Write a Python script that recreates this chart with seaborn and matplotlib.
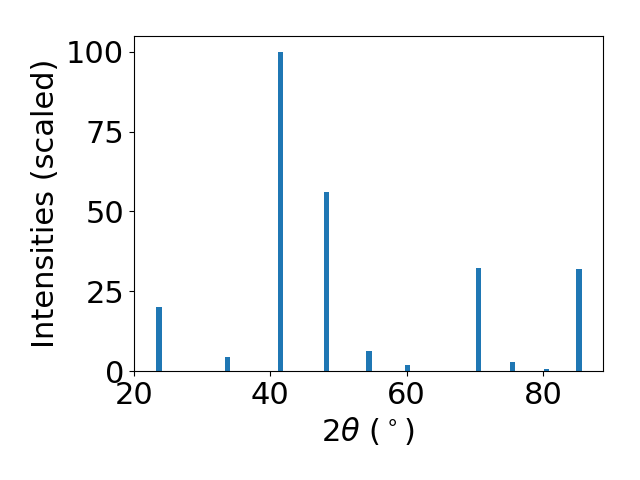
import numpy as np
import pandas as pd
import matplotlib
matplotlib.use("Agg")
import matplotlib.pyplot as plt
import seaborn as sns

# peak positions (2theta, deg) and scaled intensities
two_theta = [23.7, 33.7, 41.5, 48.3, 54.5, 60.1, 70.6, 75.6, 80.5, 85.3]
intensity = [20.1, 4.4, 100.0, 56.2, 6.3, 1.9, 32.3, 2.8, 0.7, 32.0]

df = pd.DataFrame({"two_theta": two_theta, "intensity": intensity})

# plain matplotlib look (black text, full frame)
plt.rcParams["font.family"] = ["DejaVu Sans"]
plt.rcParams["font.size"] = 22

fig, ax = plt.subplots(figsize=(6.4, 4.8), dpi=100)
sns.barplot(data=df, x="two_theta", y="intensity", native_scale=True,
            width=0.16, color="#1f77b4", saturation=1, linewidth=0, ax=ax)

ax.set_xlim(20, 88.8)
ax.set_ylim(0, 105)
ax.set_xticks([20, 40, 60, 80])
ax.set_yticks([0, 25, 50, 75, 100])
ax.set_xlabel(r"2$\theta$ ($^\circ$)", fontsize=22)
ax.set_ylabel("Intensities (scaled)", fontsize=22)
ax.tick_params(labelsize=22)

fig.subplots_adjust(left=0.209, right=0.942, bottom=0.227, top=0.925)
fig.savefig("out.png", dpi=100)
